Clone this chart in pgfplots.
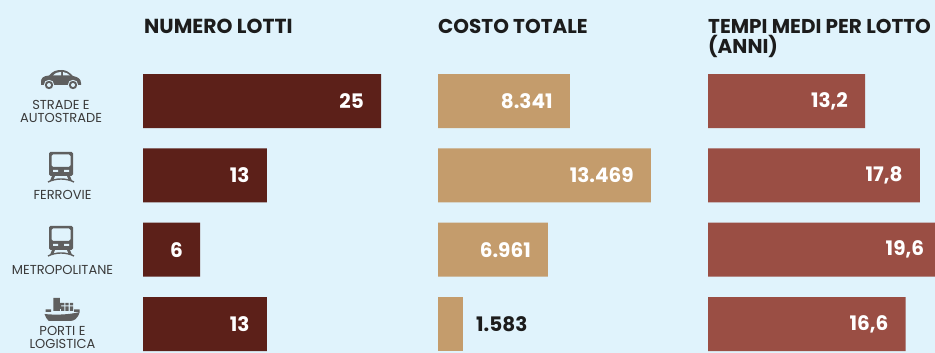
\documentclass[border=0pt]{standalone}
\usepackage{pgfplots}
\pgfplotsset{compat=1.18}
\usepackage{fontspec}
\setmainfont{Poppins}
\definecolor{bg}{HTML}{E0F3FC}
\definecolor{cola}{HTML}{5C2019}
\definecolor{colb}{HTML}{C49C6C}
\definecolor{colc}{HTML}{9A4E44}
\definecolor{icon}{HTML}{5F5F5F}
\definecolor{lab}{HTML}{3A3A3A}
\definecolor{head}{HTML}{1C1C1C}
\pgfplotsset{
  rowaxis/.style={
    anchor=south west, hide axis, scale only axis, clip=true,
    y dir=reverse, ymin=-0.5, ymax=3.39, height=289.1pt, xmin=0,
    xbar, bar width=54pt, bar shift=0pt,
    point meta=explicit symbolic,
    nodes near coords,
    every node near coord/.append style={font=\fontsize{20}{20}\selectfont\bfseries, text=white, anchor=east, xshift=-17pt, inner sep=0pt}
  }
}
\newcommand{\hd}[4]{\node[anchor=north west,inner sep=0pt,align=left,text=head,font=\fontsize{#4}{#4}\selectfont\bfseries] at (#1,#2) {#3};}
\newcommand{\cat}[3]{\node[anchor=north,inner sep=0pt,align=center,text=lab,font=\fontsize{13}{13}\selectfont] at (#1,#2) {#3};}
\newcommand{\train}[1]{%
  \begin{scope}[shift={(#1)}]
    \fill[icon,even odd rule,rounded corners=1.5pt] (-12,0) rectangle (12,-24)
      (-9.5,-2.5) rectangle (9.5,-15);
    \fill[bg] (-8,-18) rectangle (-3,-20) (3,-18) rectangle (8,-20);
    \draw[icon,line width=1.4pt] (-13,-30) .. controls (-5,-26) and (5,-26) .. (13,-30);
    \fill[icon] (-9,-24) -- (-11,-29) -- (-8,-29) -- (-6,-24) -- cycle
                (9,-24) -- (11,-29) -- (8,-29) -- (6,-24) -- cycle;
  \end{scope}}
\begin{document}
\begin{tikzpicture}[x=1pt,y=1pt]
\useasboundingbox (0,0) rectangle (935,353);
\clip (0,0) rectangle (935,353);
\fill[bg] (0,0) rectangle (935,353);
% column 1
\begin{axis}[rowaxis, at={(143pt,0pt)}, width=285.6pt, xmax=30]
\addplot[fill=cola, draw=none] table[x=v, y=r, meta=l] {
v r l
25 0 25
13 1 13
6 2 6
13 3 13
};
\end{axis}
% column 2
\begin{axis}[rowaxis, at={(438pt,0pt)}, width=237pt, xmax=15000]
\addplot[fill=colb, draw=none] table[x=v, y=r, meta=l] {
v r l
8341 0 8.341
13469 1 13.469
6961 2 6.961
};
\addplot[fill=colb, draw=none, every node near coord/.append style={text=head, anchor=west, xshift=30pt}] table[x=v, y=r, meta=l] {
v r l
1583 3 1.583
};
\end{axis}
% column 3
\begin{axis}[rowaxis, at={(708pt,0pt)}, width=238pt, xmax=20]
\addplot[fill=colc, draw=none] table[x=v, y=r, meta=l] {
v r l
13.2 0 {13,2}
17.8 1 {17,8}
19.6 2 {19,6}
16.6 3 {16,6}
};
\end{axis}
% headers
\hd{144}{334}{NUMERO LOTTI}{20.3}
\hd{438}{334}{COSTO TOTALE}{20}
\hd{708}{334}{TEMPI MEDI PER LOTTO\\(ANNI)}{20}
% categories
\cat{61}{253}{STRADE E\\AUTOSTRADE}
\cat{62.5}{162.5}{FERROVIE}
\cat{62.5}{87.5}{METROPOLITANE}
\cat{62.5}{26.5}{PORTI E\\LOGISTICA}
% car
\begin{scope}[shift={(61,271)}]
  \fill[icon] (-20,0) .. controls (-20,4) and (-18,6) .. (-12,6.5)
     .. controls (-8,11) and (-5,12) .. (1,12) .. controls (5,12) and (8,10) .. (12,6)
     .. controls (17,5) and (20,3) .. (20,-1) -- (20,-3) -- (-20,-3) -- cycle;
  \fill[bg] (-8,6.5) .. controls (-5,9.5) and (-3,10) .. (0,10) -- (0,6.5) -- cycle
            (2,10) .. controls (5,10) and (7,8) .. (9,6.5) -- (2,6.5) -- cycle;
  \foreach \x in {-12,12} {
    \fill[bg] (\x,-3) circle (5.2);
    \fill[icon] (\x,-3) circle (4.2);
    \fill[bg] (\x,-3) circle (2);
  }
\end{scope}
\train{61,201}
\train{61,127}
% ship
\begin{scope}[shift={(61,24)},xscale=1.1]
  \fill[icon] (-15,15) .. controls (-7,14) and (7,14) .. (17,17) .. controls (15,10) and (12,8) .. (8,8) -- (-11,8) .. controls (-13,10) .. (-15,15) -- cycle;
  \fill[icon] (-7,18) rectangle (-1,31) (-4,20) rectangle (0,26);
  \fill[icon] (0,18) rectangle (3,22.5) (4,18) rectangle (7,22.5) (8,18) rectangle (11,22.5)
              (0,23.5) rectangle (3,26) (4,23.5) rectangle (7,26) (8,23.5) rectangle (11,26)
              (-14,17) rectangle (-9,19.5) (12,17) rectangle (17,19.5);
\end{scope}
\end{tikzpicture}
\end{document}
